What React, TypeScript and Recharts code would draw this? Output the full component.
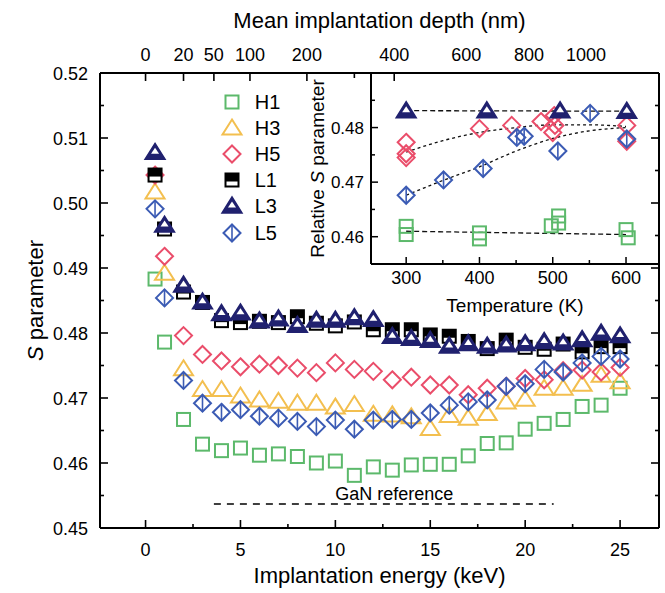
import React from 'react';
import { ComposedChart, Scatter, Line, XAxis, YAxis, Legend, ReferenceDot } from 'recharts';

const FONT = '"Liberation Sans", Arial, Helvetica, sans-serif';

// ---- main panel: S parameter vs implantation energy ----
const energy = [0.5, 1, 2, 3, 4, 5, 6, 7, 8, 9, 10, 11, 12, 13, 14, 15, 16, 17, 18, 19, 20, 21, 22, 23, 24, 25];
const sH1 = [0.4883, 0.4786, 0.4667, 0.4629, 0.4619, 0.4623, 0.4612, 0.4614, 0.461, 0.46, 0.4603, 0.4581, 0.4594, 0.4589, 0.4597, 0.4598, 0.4598, 0.4611, 0.463, 0.4631, 0.4652, 0.4661, 0.4667, 0.4687, 0.4689, 0.4715];
const sH3 = [0.5017, 0.4892, 0.4745, 0.4713, 0.4713, 0.4703, 0.4697, 0.4695, 0.4692, 0.4692, 0.4686, 0.469, 0.4675, 0.4674, 0.4671, 0.4653, 0.4673, 0.4669, 0.4676, 0.4694, 0.4698, 0.4715, 0.4715, 0.4721, 0.4735, 0.4725];
const sH5 = [0.5043, 0.4918, 0.4796, 0.4767, 0.4757, 0.4748, 0.4752, 0.475, 0.4746, 0.4739, 0.4754, 0.4744, 0.4741, 0.4728, 0.4732, 0.472, 0.472, 0.4705, 0.4715, 0.4718, 0.473, 0.4728, 0.4742, 0.4743, 0.474, 0.4747];
const sL1 = [0.5043, 0.496, 0.4863, 0.4847, 0.4819, 0.4816, 0.4818, 0.4816, 0.4825, 0.4815, 0.4811, 0.4817, 0.4805, 0.4805, 0.4805, 0.4797, 0.4795, 0.4787, 0.4776, 0.4789, 0.4778, 0.4775, 0.4783, 0.4771, 0.4779, 0.4779];
const sL3 = [0.5078, 0.4966, 0.4874, 0.4848, 0.483, 0.4831, 0.4819, 0.4822, 0.4812, 0.482, 0.482, 0.4824, 0.4821, 0.4795, 0.4792, 0.4789, 0.478, 0.4784, 0.478, 0.4782, 0.4784, 0.4787, 0.4785, 0.479, 0.48, 0.4796];
const sL5 = [0.4991, 0.4854, 0.4727, 0.4692, 0.4678, 0.4682, 0.4672, 0.4669, 0.4664, 0.4656, 0.4666, 0.4652, 0.4666, 0.4667, 0.4667, 0.4677, 0.4689, 0.4694, 0.4697, 0.4718, 0.4722, 0.4744, 0.474, 0.4754, 0.4764, 0.476];

const ganRefEnergy = [3.6, 21.5];
const ganRefS = [0.4537, 0.4537];

const energyTicks = [0, 2.5, 5, 7.5, 10, 12.5, 15, 17.5, 20, 22.5, 25];
const sTicks = [0.45, 0.455, 0.46, 0.465, 0.47, 0.475, 0.48, 0.485, 0.49, 0.495, 0.5, 0.505, 0.51, 0.515, 0.52];
const sTickLabels = ['0.45', '', '0.46', '', '0.47', '', '0.48', '', '0.49', '', '0.50', '', '0.51', '', '0.52'];

// top axis: mean implantation depth, placed at the matching energy
const depthTickEnergy = [0, 2.0, 3.6, 5.5, 8.5, 11.0, 13.1, 16.9, 20.2, 23.2];
const depthTickLabels = ['0', '20', '50', '100', '200', '', '400', '600', '800', '1000'];
const depthTickMarked = [true, true, true, true, true, true, true, false, false, false];

// ---- inset: relative S vs temperature ----
const insetH1T = [300, 300, 400, 400, 498, 508, 508, 600, 603];
const insetH1S = [0.4619, 0.4604, 0.4607, 0.4596, 0.462, 0.4638, 0.4625, 0.4613, 0.4598];
const insetH5T = [300, 300, 300, 400, 444, 484, 502, 503, 500, 601, 601];
const insetH5S = [0.4773, 0.4752, 0.4745, 0.4798, 0.4804, 0.4811, 0.4822, 0.4804, 0.4791, 0.4804, 0.4775];
const insetL3T = [300, 410, 510, 601];
const insetL3S = [0.4831, 0.4831, 0.4831, 0.483];
const insetL5T = [300, 351, 405, 451, 461, 507, 551, 601];
const insetL5S = [0.4676, 0.4704, 0.4725, 0.4782, 0.4784, 0.4757, 0.4826, 0.4779];

const fitFlatT = [300, 600];
const fitH1S = [0.461, 0.4604];
const fitL3S = [0.4831, 0.483];
const fitCurveT = [300, 350, 400, 450, 500, 550, 600];
const fitH5S = [0.4755, 0.4776, 0.4791, 0.48, 0.4805, 0.4805, 0.4802];
const fitL5S = [0.4676, 0.4703, 0.4728, 0.4757, 0.478, 0.4794, 0.48];

const tempTicks = [300, 350, 400, 450, 500, 550, 600];
const relSTicks = [0.46, 0.465, 0.47, 0.475, 0.48, 0.485];
const relSTickLabels = ['0.46', '', '0.47', '', '0.48', ''];

const COLORS = {
  H1: '#5cb96b',
  H3: '#f3bf4f',
  H5: '#ea4d6a',
  L1: '#000000',
  L3: '#20216f',
  L5: '#3b5bb4',
};

const pts = (xs: number[], ys: number[]) => xs.map((x, i) => ({ x, y: ys[i] }));

function Marker({ kind, cx, cy }: { kind: string; cx: number; cy: number }) {
  switch (kind) {
    case 'H1':
      return <rect x={cx - 6.5} y={cy - 6.5} width={13} height={13} fill="none" stroke={COLORS.H1} strokeWidth={2} />;
    case 'H3':
      return <path d={`M${cx},${cy - 8.5}L${cx + 9.5},${cy + 6.5}L${cx - 9.5},${cy + 6.5}Z`} fill="none" stroke={COLORS.H3} strokeWidth={2} strokeLinejoin="miter" />;
    case 'H5':
      return <path d={`M${cx},${cy - 8.5}L${cx + 8.5},${cy}L${cx},${cy + 8.5}L${cx - 8.5},${cy}Z`} fill="none" stroke={COLORS.H5} strokeWidth={2} />;
    case 'L1':
      return (
        <g>
          <rect x={cx - 6.5} y={cy - 6.5} width={13} height={13} fill="#fff" stroke="#000" strokeWidth={2} />
          <rect x={cx - 6.5} y={cy - 6.5} width={13} height={8} fill="#000" />
        </g>
      );
    case 'L3':
      return (
        <g>
          <path d={`M${cx},${cy - 9}L${cx + 10},${cy + 7}L${cx - 10},${cy + 7}Z`} fill={COLORS.L3} stroke={COLORS.L3} strokeWidth={1.5} />
          <path d={`M${cx},${cy - 4.5}L${cx + 4},${cy + 1.5}L${cx - 4},${cy + 1.5}Z`} fill="#fff" />
        </g>
      );
    default:
      return (
        <g>
          <path d={`M${cx},${cy - 8.5}L${cx + 8.5},${cy}L${cx},${cy + 8.5}L${cx - 8.5},${cy}Z`} fill="none" stroke={COLORS.L5} strokeWidth={2} />
          <line x1={cx} x2={cx} y1={cy - 8.5} y2={cy + 8.5} stroke={COLORS.L5} strokeWidth={1.6} />
        </g>
      );
  }
}

const shapeOf = (kind: string) => (p: any) => <Marker kind={kind} cx={p.cx} cy={p.cy} />;

// ---- tick renderers (ticks point inward) ----
const BOTTOM_GAP = 13;
function EnergyTick({ x, y, payload }: any) {
  const v = payload.value;
  const major = Math.abs(v % 5) < 1e-6;
  const axisY = y - BOTTOM_GAP;
  return (
    <g>
      <line x1={x} x2={x} y1={axisY} y2={axisY - (major ? 8 : 4)} stroke="#000" strokeWidth={1.6} />
      {major && (
        <text x={x} y={axisY + 27.5} textAnchor="middle" fontSize={18} fontFamily={FONT} fill="#000">
          {v}
        </text>
      )}
    </g>
  );
}

const LEFT_GAP = 12;
function STick({ x, y, payload }: any) {
  const i = sTicks.indexOf(payload.value);
  const label = sTickLabels[i] ?? '';
  const axisX = x + LEFT_GAP;
  return (
    <g>
      <line x1={axisX} x2={axisX + (label ? 8 : 4)} y1={y} y2={y} stroke="#000" strokeWidth={1.6} />
      {label && (
        <text x={x} y={y + 6.5} textAnchor="end" fontSize={18} fontFamily={FONT} fill="#000">
          {label}
        </text>
      )}
    </g>
  );
}

function RightTick({ x, y, payload }: any) {
  const i = sTicks.indexOf(payload.value);
  const major = !!sTickLabels[i];
  return <line x1={x} x2={x - (major ? 8 : 4)} y1={y} y2={y} stroke="#000" strokeWidth={1.6} />;
}

const TOP_GAP = 10;
function DepthTick({ x, y, payload }: any) {
  const i = depthTickEnergy.indexOf(payload.value);
  const label = depthTickLabels[i] ?? '';
  const axisY = y + TOP_GAP;
  return (
    <g>
      {depthTickMarked[i] && <line x1={x} x2={x} y1={axisY} y2={axisY + (label ? 8 : 5)} stroke="#000" strokeWidth={1.6} />}
      {label && (
        <text x={x} y={axisY - 12} textAnchor="middle" fontSize={18} fontFamily={FONT} fill="#000">
          {label}
        </text>
      )}
    </g>
  );
}

const INSET_BOTTOM_GAP = 7;
function TempTick({ x, y, payload }: any) {
  const v = payload.value;
  const major = v % 100 === 0;
  const axisY = y - INSET_BOTTOM_GAP;
  return (
    <g>
      <line x1={x} x2={x} y1={axisY} y2={axisY - (major ? 7 : 4)} stroke="#000" strokeWidth={1.5} />
      {major && (
        <text x={x} y={axisY + 20} textAnchor="middle" fontSize={18} fontFamily={FONT} fill="#000">
          {v}
        </text>
      )}
    </g>
  );
}

function TempTopTick({ x, y, payload }: any) {
  const major = payload.value % 100 === 0;
  return <line x1={x} x2={x} y1={y} y2={y + (major ? 7 : 4)} stroke="#000" strokeWidth={1.5} />;
}

const INSET_LEFT_GAP = 7;
function RelSTick({ x, y, payload }: any) {
  const i = relSTicks.indexOf(payload.value);
  const label = relSTickLabels[i] ?? '';
  const axisX = x + INSET_LEFT_GAP;
  return (
    <g>
      <line x1={axisX} x2={axisX + (label ? 7 : 4)} y1={y} y2={y} stroke="#000" strokeWidth={1.5} />
      {label && (
        <text x={x} y={y + 6} textAnchor="end" fontSize={17} fontFamily={FONT} fill="#000">
          {label}
        </text>
      )}
    </g>
  );
}

// ---- axis titles ----
const xTitle = (text: string, dy: number, size: number) => (p: any) => {
  const vb = p.viewBox;
  return (
    <text x={vb.x + vb.width / 2} y={vb.y + dy} textAnchor="middle" fontSize={size} fontFamily={FONT} fill="#000">
      {text}
    </text>
  );
};

const yTitle = (prefix: string, rest: string, dx: number, size: number) => (p: any) => {
  const vb = p.viewBox;
  const cx = vb.x + dx;
  const cy = vb.y + vb.height / 2;
  return (
    <text
      x={cx}
      y={cy}
      transform={`rotate(-90, ${cx}, ${cy})`}
      textAnchor="middle"
      dominantBaseline="central"
      fontSize={size}
      fontFamily={FONT}
      fill="#000"
    >
      {prefix}
      <tspan fontStyle="italic">S</tspan>
      {rest}
    </text>
  );
};

const legendItems = ['H1', 'H3', 'H5', 'L1', 'L3', 'L5'];

function LegendBox() {
  return (
    <div style={{ fontFamily: FONT, fontSize: 20, color: '#000' }}>
      {legendItems.map((k) => (
        <div key={k} style={{ display: 'flex', alignItems: 'center', height: 26.2 }}>
          <svg width={24} height={26} style={{ display: 'block' }}>
            <Marker kind={k} cx={12} cy={13} />
          </svg>
          <span style={{ marginLeft: 11, lineHeight: '26px' }}>{k}</span>
        </div>
      ))}
    </div>
  );
}

const axisLine = { stroke: '#000', strokeWidth: 2 };

export default function App() {
  const mainSeries: [string, number[]][] = [
    ['H1', sH1],
    ['H3', sH3],
    ['H5', sH5],
    ['L1', sL1],
    ['L3', sL3],
    ['L5', sL5],
  ];
  const insetSeries: [string, number[], number[]][] = [
    ['H1', insetH1T, insetH1S],
    ['H5', insetH5T, insetH5S],
    ['L5', insetL5T, insetL5S],
    ['L3', insetL3T, insetL3S],
  ];

  return (
    <div style={{ position: 'absolute', left: 0, top: 0, width: 665, height: 593, background: '#fff' }}>
      <ComposedChart width={665} height={593} margin={{ top: 0, right: 5, bottom: 0, left: 0 }}>
        <XAxis
          dataKey="x"
          type="number"
          domain={[-2.4, 27.05]}
          ticks={energyTicks}
          interval={0}
          tickSize={0}
          tickMargin={BOTTOM_GAP}
          tickLine={false}
          tick={<EnergyTick />}
          axisLine={axisLine}
          height={65}
          allowDataOverflow
          label={xTitle('Implantation energy (keV)', 55, 22)}
        />
        <XAxis
          xAxisId="top"
          orientation="top"
          dataKey="x"
          type="number"
          domain={[-2.4, 27.05]}
          ticks={depthTickEnergy}
          interval={0}
          tickSize={0}
          tickMargin={TOP_GAP}
          tickLine={false}
          tick={<DepthTick />}
          axisLine={axisLine}
          height={73}
          allowDataOverflow
          label={xTitle('Mean implantation depth (nm)', 28, 22)}
        />
        <YAxis
          type="number"
          domain={[0.45, 0.52]}
          ticks={sTicks}
          interval={0}
          tickSize={0}
          tickMargin={LEFT_GAP}
          tickLine={false}
          tick={<STick />}
          axisLine={axisLine}
          width={100}
          allowDataOverflow
          label={yTitle('', ' parameter', 35, 22)}
        />
        <YAxis
          yAxisId="right"
          orientation="right"
          type="number"
          domain={[0.45, 0.52]}
          ticks={sTicks}
          interval={0}
          tickSize={0}
          tickMargin={0}
          tickLine={false}
          tick={<RightTick />}
          axisLine={axisLine}
          width={1}
          allowDataOverflow
        />
        <Line
          data={pts(ganRefEnergy, ganRefS)}
          dataKey="y"
          type="linear"
          stroke="#000"
          strokeWidth={1.6}
          strokeDasharray="7 6"
          dot={false}
          activeDot={false}
          isAnimationActive={false}
        />
        <ReferenceDot
          x={13.1}
          y={0.4553}
          r={1}
          fill="none"
          stroke="none"
          label={{ value: 'GaN reference', position: 'center', fontSize: 18, fontFamily: FONT, fill: '#000' }}
        />
        {mainSeries.map(([k, ys]) => (
          <Scatter key={k} name={k} data={pts(energy, ys)} dataKey="y" shape={shapeOf(k)} isAnimationActive={false} />
        ))}
        <Legend
          layout="vertical"
          align="center"
          verticalAlign="middle"
          content={() => <LegendBox />}
          wrapperStyle={{ left: 219.7, top: 88.5, width: 70, height: 160 }}
        />
      </ComposedChart>

      <div style={{ position: 'absolute', left: 300, top: 0 }}>
        <ComposedChart width={365} height={330} margin={{ top: 73, right: 6, bottom: 0, left: 0 }}>
          <XAxis
            dataKey="x"
            type="number"
            domain={[252, 645]}
            ticks={tempTicks}
            interval={0}
            tickSize={0}
            tickMargin={INSET_BOTTOM_GAP}
            tickLine={false}
            tick={<TempTick />}
            axisLine={axisLine}
            height={66}
            allowDataOverflow
            label={xTitle('Temperature (K)', 48, 19)}
          />
          <XAxis
            xAxisId="top"
            orientation="top"
            dataKey="x"
            type="number"
            domain={[252, 645]}
            ticks={tempTicks}
            interval={0}
            tickSize={0}
            tickMargin={0}
            tickLine={false}
            tick={<TempTopTick />}
            axisLine={false}
            height={0}
            allowDataOverflow
          />
          <YAxis
            type="number"
            domain={[0.455, 0.49]}
            ticks={relSTicks}
            interval={0}
            tickSize={0}
            tickMargin={INSET_LEFT_GAP}
            tickLine={false}
            tick={<RelSTick />}
            axisLine={axisLine}
            width={71}
            allowDataOverflow
            label={yTitle('Relative ', ' parameter', 17, 19)}
          />
          <Line data={pts(fitFlatT, fitL3S)} dataKey="y" type="linear" stroke="#111" strokeWidth={1.3} strokeDasharray="5 3" dot={false} activeDot={false} isAnimationActive={false} />
          <Line data={pts(fitFlatT, fitH1S)} dataKey="y" type="linear" stroke="#111" strokeWidth={1.3} strokeDasharray="5 3" dot={false} activeDot={false} isAnimationActive={false} />
          <Line data={pts(fitCurveT, fitH5S)} dataKey="y" type="monotone" stroke="#111" strokeWidth={1.3} strokeDasharray="3 3" dot={false} activeDot={false} isAnimationActive={false} />
          <Line data={pts(fitCurveT, fitL5S)} dataKey="y" type="monotone" stroke="#111" strokeWidth={1.3} strokeDasharray="3 3" dot={false} activeDot={false} isAnimationActive={false} />
          {insetSeries.map(([k, xs, ys]) => (
            <Scatter key={k} data={pts(xs, ys)} dataKey="y" shape={shapeOf(k)} isAnimationActive={false} />
          ))}
        </ComposedChart>
      </div>
    </div>
  );
}
